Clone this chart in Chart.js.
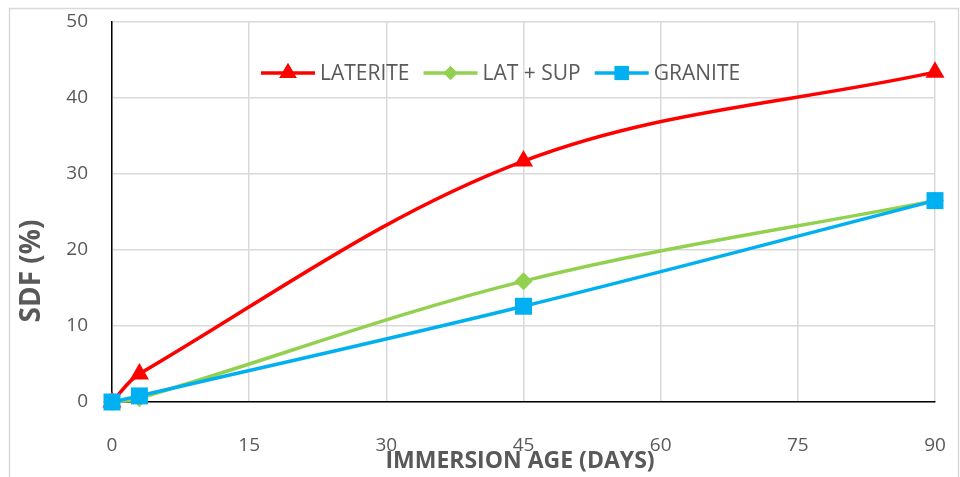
<!DOCTYPE html>
<html>
<head>
<meta charset="utf-8">
<script src="https://cdn.jsdelivr.net/npm/chart.js@4.4.0/dist/chart.umd.min.js"></script>
<style>
  html, body { margin:0; padding:0; background:#fff; }
  #wrap { width:960px; height:477px; }
</style>
</head>
<body>
<div id="wrap"><canvas id="sdf_chart" width="960" height="477"></canvas></div>
<script>
// immersion age in days
let days = [0, 3, 45, 90];
let laterite = [0, 3.7, 31.7, 43.4];
let latSup = [0, 0.5, 15.9, 26.5];
let granite = [0, 0.8, 12.6, 26.5];
let xTicks = [0, 15, 30, 45, 60, 75, 90];
let yTicks = [0, 10, 20, 30, 40, 50];

let FONT = "'Open Sans', 'Liberation Sans', sans-serif";
let TXT = '#595959';

function pts(arr) {
    let out = [];
    for (let i = 0; i < days.length; i++) out.push({x: days[i], y: arr[i]});
    return out;
}

// frame, axis titles and the in-plot legend
let decor = {
    id: 'decor',
    beforeDraw(chart) {
        let c = chart.ctx;
        c.save();
        c.strokeStyle = '#d9d9d9';
        c.lineWidth = 1.5;
        c.strokeRect(9.5, 8.5, 949, 480);
        c.restore();
    },
    afterDraw(chart) {
        let c = chart.ctx;
        c.save();
        c.fillStyle = TXT;
        c.font = 'bold 23px ' + FONT;
        c.textAlign = 'center';
        c.textBaseline = 'middle';
        c.fillText('IMMERSION AGE (DAYS)', 520, 461);
        c.translate(32, 271);
        c.rotate(-Math.PI / 2);
        c.font = 'bold 28px ' + FONT;
        c.fillText('SDF (%)', 0, 0);
        c.restore();

        // legend
        let items = [chart.data.datasets[2], chart.data.datasets[1], chart.data.datasets[0]];
        let sizes = [10, 7, 10];
        let x = 261, y = 73;
        c.save();
        c.font = '21px ' + FONT;
        c.textBaseline = 'middle';
        for (let i = 0; i < items.length; i++) {
            let ds = items[i];
            c.strokeStyle = ds.borderColor;
            c.lineWidth = 3.5;
            c.beginPath();
            c.moveTo(x, y);
            c.lineTo(x + 54, y);
            c.stroke();
            c.fillStyle = ds.borderColor;
            Chart.helpers.drawPoint(c, {pointStyle: ds.pointStyle, radius: sizes[i], borderWidth: 0}, x + 27, y);
            c.fill();
            c.fillStyle = TXT;
            c.fillText(ds.label, x + 59, y + 1);
            x += 59 + c.measureText(ds.label).width + 14;
        }
        c.restore();
    }
};

let sdfChart = new Chart($id('sdf_chart'), {
    type: 'line',
    data: {
        datasets: [
            {label: 'GRANITE', data: pts(granite), borderColor: '#00b0f0', backgroundColor: '#00b0f0',
             pointStyle: 'rect', pointRadius: 12, order: 0},
            {label: 'LAT + SUP', data: pts(latSup), borderColor: '#92d050', backgroundColor: '#92d050',
             pointStyle: 'rectRot', pointRadius: 9, order: 1},
            {label: 'LATERITE', data: pts(laterite), borderColor: '#ff0000', backgroundColor: '#ff0000',
             pointStyle: 'triangle', pointRadius: 11, order: 2}
        ]
    },
    options: {
        responsive: false,
        animation: false,
        events: [],
        layout: {padding: {left: 0, top: 22, right: 25, bottom: 0}},
        elements: {
            line: {borderWidth: 3.5, tension: 0.35},
            point: {borderWidth: 0}
        },
        datasets: {line: {clip: false}},
        plugins: {legend: {display: false}, tooltip: {enabled: false}},
        scales: {
            x: {
                type: 'linear', min: 0, max: 90,
                afterBuildTicks: function(s) { s.ticks = xTicks.map(v => ({value: v})); },
                afterFit: function(s) { s.height = 75; s.paddingLeft = 0; s.paddingRight = 0; },
                grid: {color: '#d9d9d9', lineWidth: 1.5, drawTicks: false},
                border: {color: '#000', width: 1.5},
                ticks: {color: TXT, font: {family: FONT, size: 19}, padding: 32, maxRotation: 0}
            },
            y: {
                min: 0, max: 50,
                afterBuildTicks: function(s) { s.ticks = yTicks.map(v => ({value: v})); },
                afterFit: function(s) { s.width = 112; s.paddingTop = 0; s.paddingBottom = 0; },
                grid: {color: '#d9d9d9', lineWidth: 1.5, drawTicks: false},
                border: {color: '#000', width: 1.5},
                ticks: {color: TXT, font: {family: FONT, size: 19}, padding: 24}
            }
        }
    },
    plugins: [decor]
});

function $id(id) { return document.getElementById(id); }
</script>
</body>
</html>
